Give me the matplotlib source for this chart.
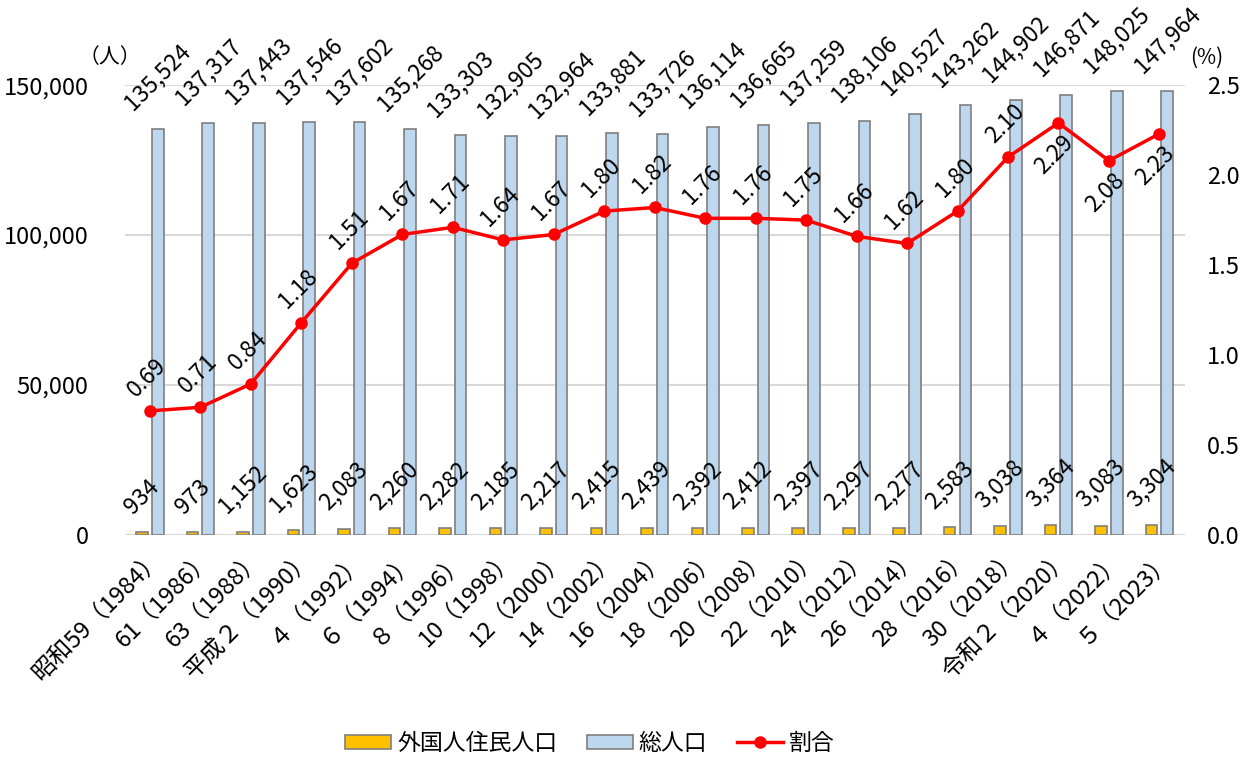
import numpy as np
import matplotlib
matplotlib.use('Agg')
import matplotlib.pyplot as plt
from matplotlib.lines import Line2D
from matplotlib.patches import Patch

plt.rcParams['font.family'] = ['Noto Sans CJK JP', 'DejaVu Sans']

# data
years = ['昭和59（1984）', '61（1986）', '63（1988）', '平成２（1990）', '４（1992）',
         '６（1994）', '８（1996）', '10（1998）', '12（2000）', '14（2002）',
         '16（2004）', '18（2006）', '20（2008）', '22（2010）', '24（2012）',
         '26（2014）', '28（2016）', '30（2018）', '令和２（2020）', '４（2022）',
         '５（2023）']
foreign = [934, 973, 1152, 1623, 2083, 2260, 2282, 2185, 2217, 2415, 2439,
           2392, 2412, 2397, 2297, 2277, 2583, 3038, 3364, 3083, 3304]
total = [135524, 137317, 137443, 137546, 137602, 135268, 133303, 132905,
         132964, 133881, 133726, 136114, 136665, 137259, 138106, 140527,
         143262, 144902, 146871, 148025, 147964]
ratio = [0.69, 0.71, 0.84, 1.18, 1.51, 1.67, 1.71, 1.64, 1.67, 1.80, 1.82,
         1.76, 1.76, 1.75, 1.66, 1.62, 1.80, 2.10, 2.29, 2.08, 2.23]
# ratio labels drawn below the marker
below = [18, 19, 20]

c_yellow = '#FFC000'
c_blue = '#BDD7EE'
c_edge = '#7F7F7F'
c_red = '#FF0000'

fig = plt.figure(figsize=(12.47, 7.6), dpi=100)
ax = fig.add_axes([0.100, 0.296, 0.850, 0.592])
ax2 = ax.twinx()

x = np.arange(len(years))
w = 0.23
off = 0.155
ax.bar(x - off, foreign, w, color=c_yellow, edgecolor=c_edge, linewidth=1.2, zorder=2)
ax.bar(x + off, total, w, color=c_blue, edgecolor=c_edge, linewidth=1.2, zorder=2)

for i in range(len(years)):
    ax.annotate(f'{foreign[i]:,}', (x[i] - off, foreign[i]), xytext=(0, 10),
                textcoords='offset points', rotation=45, ha='center', va='bottom',
                fontsize=16.5)
    ax.annotate(f'{total[i]:,}', (x[i] + off, total[i]), xytext=(0, 10),
                textcoords='offset points', rotation=45, ha='center', va='bottom',
                fontsize=16.5)

ax2.plot(x, ratio, color=c_red, linewidth=2.5, marker='o', markersize=8, zorder=3)
for i in range(len(years)):
    if i in below:
        ax2.annotate(f'{ratio[i]:.2f}', (x[i], ratio[i]), xytext=(-3, -6),
                     textcoords='offset points', rotation=45, ha='center', va='top',
                     fontsize=16.5)
    else:
        ax2.annotate(f'{ratio[i]:.2f}', (x[i], ratio[i]), xytext=(-2, 7),
                     textcoords='offset points', rotation=45, ha='center', va='bottom',
                     fontsize=16.5)

ax.set_xlim(-0.5, len(years) - 0.5)
ax.set_ylim(0, 150000)
ax2.set_ylim(0, 2.5)
ax.set_yticks([0, 50000, 100000, 150000])
ax.set_yticklabels([f'{v:,}' for v in [0, 50000, 100000, 150000]], fontsize=17)
ax2.set_yticks([0, 0.5, 1.0, 1.5, 2.0, 2.5])
ax2.set_yticklabels([f'{v:.1f}' for v in [0, 0.5, 1.0, 1.5, 2.0, 2.5]], fontsize=17)
ax.set_xticks(x)
ax.set_xticklabels(years, rotation=45, ha='right', rotation_mode='anchor', fontsize=17)

ax.grid(axis='y', color='#D9D9D9', linewidth=1.5, zorder=0)
ax.set_axisbelow(True)
for a in (ax, ax2):
    for s in a.spines.values():
        s.set_visible(False)
    a.tick_params(length=0)
ax.tick_params(axis='y', pad=26)
ax.tick_params(axis='x', pad=8)
ax2.tick_params(axis='y', pad=16)

fig.text(0.088, 0.925, '（人）', fontsize=15, ha='center', va='center')
fig.text(0.968, 0.924, '(%)', fontsize=15, ha='center', va='center')

handles = [Patch(facecolor=c_yellow, edgecolor=c_edge, linewidth=1.2),
           Patch(facecolor=c_blue, edgecolor=c_edge, linewidth=1.2),
           Line2D([], [], color=c_red, linewidth=2.5, marker='o', markersize=8)]
fig.legend(handles, ['外国人住民人口', '総人口', '割合'], loc='center',
           bbox_to_anchor=(0.473, 0.022), ncol=3, frameon=False, fontsize=16.5,
           handlelength=2.0, handleheight=0.55, columnspacing=1.3, handletextpad=0.25)

fig.savefig('out.png', dpi=100)
